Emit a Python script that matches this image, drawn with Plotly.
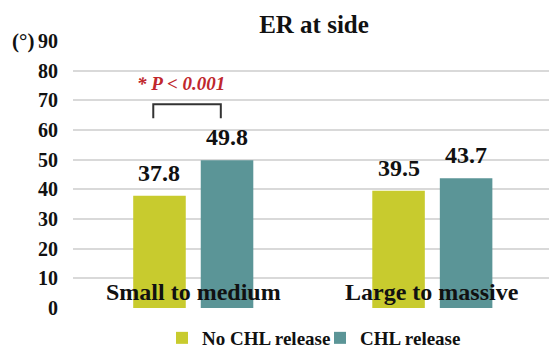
import plotly.graph_objects as go

categories = ["Small to medium", "Large to massive"]
series_names = ["No CHL release", "CHL release"]
no_chl = [37.8, 39.5]
chl = [49.8, 43.7]
y_ticks = [0, 10, 20, 30, 40, 50, 60, 70, 80, 90]
title_text = "ER at side"
unit_text = "(°)"
p_text = "* P < 0.001"

colors = ["#c8cb2e", "#5b9597"]
FONT = "Liberation Serif"

fig = go.Figure()
for name, vals, col in zip(series_names, [no_chl, chl], colors):
    fig.add_trace(go.Bar(x=categories, y=vals, name=name, marker_color=col,
                         marker_line_width=0))

W, H = 549, 349
L, R, T, B = 73, 0, 41, 41
plot_w = W - L - R
plot_h = H - T - B
xr = [-0.503, 1.488]
bargap = 0.435
bargroupgap = 0.222
slot = (1 - bargap) / 2
bar_offsets = [-slot / 2, slot / 2]

annotations = []
# value labels
for vals, off in zip([no_chl, chl], bar_offsets):
    for i, v in enumerate(vals):
        annotations.append(dict(x=i + off, y=v, xref="x", yref="y", text=f"{v:.1f}",
                                showarrow=False, yanchor="bottom", yshift=8,
                                font=dict(family=FONT, size=24, color="#111", weight="bold")))
# category labels inside plot
for i, c in enumerate(categories):
    annotations.append(dict(x=i, y=0, xref="x", yref="y", text=c, showarrow=False,
                            yanchor="middle", yshift=16,
                            font=dict(family=FONT, size=24, color="#111", weight="bold")))
# unit label
annotations.append(dict(x=(23 - L) / plot_w, y=90, xref="paper", yref="y", text=unit_text,
                        showarrow=False, xanchor="center", yanchor="middle",
                        font=dict(family=FONT, size=21, color="#111", weight="bold")))
# significance
annotations.append(dict(x=-0.05, y=max(no_chl[0], chl[0]), xref="x", yref="y", text=p_text,
                        showarrow=False, yanchor="middle", yshift=77,
                        font=dict(family=FONT, size=19, color="#c0272d", weight="bold",
                                  style="italic")))

top = max(no_chl[0], chl[0])
xl = bar_offsets[0] - 0.026
xrb = bar_offsets[1] - 0.026
shapes = [dict(type="path", xref="x", yref="y",
               path=f"M{xl},{top + 14.2} V{top + 18.9} H{xrb} V{top + 14.2}",
               line=dict(color="#333333", width=2))]

fig.update_layout(
    width=W, height=H,
    margin=dict(l=L, r=R, t=T, b=B, autoexpand=False),
    paper_bgcolor="white", plot_bgcolor="white",
    barmode="group", bargap=bargap, bargroupgap=bargroupgap,
    title=dict(text=title_text, x=314 / W, xref="container", xanchor="center",
               y=1 - 24 / H, yref="container", yanchor="middle",
               font=dict(family=FONT, size=25, color="#111", weight="bold")),
    xaxis=dict(range=xr, showticklabels=False, showgrid=False, zeroline=False,
               showline=False, ticks="", automargin=False),
    yaxis=dict(range=[0, 90], tickvals=y_ticks, showgrid=True, gridcolor="#d9d9d9",
               gridwidth=2, zeroline=False, showline=False, ticks="",
               ticklabelstandoff=14, automargin=False,
               tickfont=dict(family=FONT, size=20, color="#111", weight="bold")),
    legend=dict(orientation="h", x=(162 - L) / plot_w, xanchor="left",
                y=-30 / plot_h, yanchor="middle",
                font=dict(family=FONT, size=19, color="#111", weight="bold"),
                itemwidth=30, entrywidth=113, traceorder="normal",
                bgcolor="rgba(0,0,0,0)"),
    annotations=annotations,
    shapes=shapes,
    showlegend=True,
)

fig.write_html("out.html", config={"displayModeBar": False},
               post_script="document.body.style.margin='0';")
